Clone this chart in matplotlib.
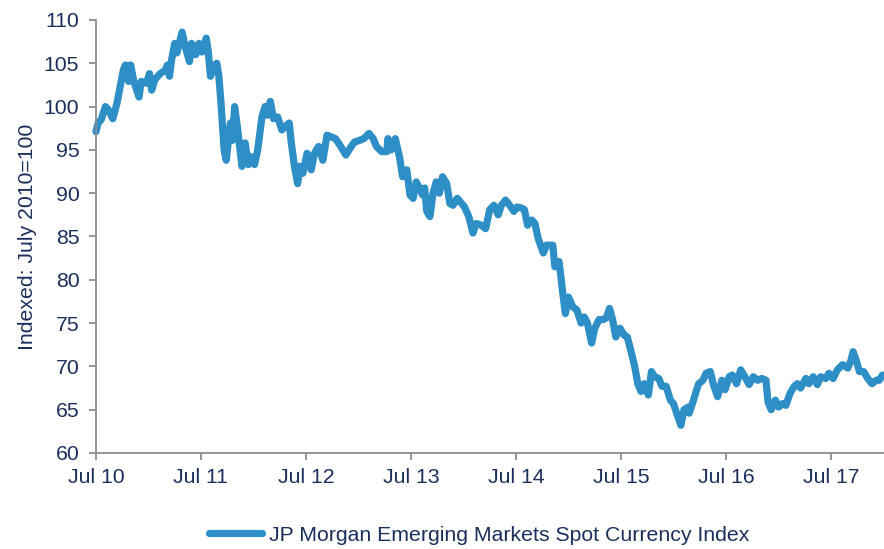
import matplotlib
matplotlib.use("Agg")
import matplotlib.pyplot as plt
import pandas as pd

# Time in years since 1 Jul 2010, and index values (July 2010 = 100)
years_since_jul2010 = [
    0.00, 0.02, 0.05, 0.09, 0.12, 0.16, 0.20, 0.23, 0.26, 0.28, 0.31, 0.33, 0.36, 0.41,
    0.43, 0.48, 0.51, 0.53, 0.56, 0.61, 0.66, 0.68, 0.70, 0.72, 0.75, 0.77, 0.82, 0.85,
    0.89, 0.91, 0.95, 0.98, 1.01, 1.05, 1.07, 1.09, 1.12, 1.15, 1.17, 1.19, 1.22, 1.24,
    1.28, 1.30, 1.32, 1.35, 1.39, 1.42, 1.45, 1.48, 1.51, 1.54, 1.58, 1.61, 1.63, 1.66,
    1.69, 1.73, 1.77, 1.80, 1.84, 1.86, 1.89, 1.92, 1.94, 1.97, 2.01, 2.05, 2.08, 2.12,
    2.16, 2.20, 2.24, 2.28, 2.32, 2.38, 2.42, 2.46, 2.51, 2.55, 2.60, 2.64, 2.67, 2.72,
    2.77, 2.78, 2.81, 2.85, 2.89, 2.92, 2.96, 2.99, 3.02, 3.05, 3.08, 3.11, 3.13, 3.15,
    3.18, 3.21, 3.24, 3.27, 3.30, 3.34, 3.37, 3.40, 3.44, 3.47, 3.51, 3.55, 3.59, 3.62,
    3.67, 3.71, 3.75, 3.79, 3.83, 3.86, 3.90, 3.94, 3.98, 4.01, 4.05, 4.08, 4.11, 4.15,
    4.18, 4.21, 4.26, 4.29, 4.35, 4.37, 4.41, 4.43, 4.45, 4.47, 4.50, 4.54, 4.58, 4.62,
    4.65, 4.68, 4.72, 4.75, 4.79, 4.83, 4.86, 4.89, 4.92, 4.95, 4.99, 5.03, 5.06, 5.10,
    5.13, 5.16, 5.19, 5.22, 5.26, 5.29, 5.32, 5.36, 5.39, 5.43, 5.47, 5.50, 5.53, 5.57,
    5.60, 5.64, 5.65, 5.68, 5.72, 5.74, 5.78, 5.81, 5.85, 5.88, 5.92, 5.96, 5.99, 6.03,
    6.06, 6.10, 6.14, 6.18, 6.22, 6.26, 6.30, 6.34, 6.38, 6.40, 6.43, 6.47, 6.50, 6.54,
    6.57, 6.61, 6.65, 6.68, 6.71, 6.76, 6.79, 6.83, 6.87, 6.90, 6.95, 6.98, 7.02, 7.06,
    7.11, 7.16, 7.19, 7.21, 7.24, 7.27, 7.31, 7.35, 7.39, 7.43, 7.46, 7.49,
]
index_values = [
    97.1, 98.1, 98.5, 100.0, 99.6, 98.6, 100.4, 102.3, 104.2, 104.8, 102.9, 104.8, 102.9, 101.1,
    102.9, 102.7, 103.8, 101.9, 103.1, 103.8, 104.2, 104.8, 103.5, 105.4, 107.3, 106.2, 108.6, 106.9,
    105.2, 107.3, 106.0, 107.3, 106.3, 107.9, 106.3, 103.5, 104.6, 105.0, 103.5, 100.5, 95.0, 93.8,
    98.1, 96.1, 100.0, 97.3, 93.1, 95.8, 93.3, 94.2, 93.3, 95.0, 98.8, 100.0, 99.0, 100.6,
    98.6, 98.8, 97.3, 97.7, 98.1, 95.8, 93.1, 91.1, 93.1, 92.3, 94.6, 92.7, 94.6, 95.4,
    93.8, 96.7, 96.5, 96.3, 95.6, 94.4, 95.2, 95.9, 96.1, 96.3, 96.9, 96.3, 95.4, 94.8,
    94.8, 96.3, 95.0, 96.3, 94.2, 91.9, 92.7, 89.8, 89.4, 91.3, 90.6, 89.8, 90.6, 87.9,
    87.3, 90.0, 91.3, 90.0, 91.9, 91.1, 88.8, 88.6, 89.4, 89.0, 88.4, 87.3, 85.4, 86.5,
    86.3, 85.9, 88.1, 88.6, 87.5, 88.6, 89.2, 88.6, 87.9, 88.4, 88.3, 88.1, 86.3, 86.9,
    86.5, 84.8, 83.1, 84.0, 84.0, 81.5, 82.1, 80.0, 78.0, 76.1, 78.0, 76.9, 76.5, 75.0,
    75.7, 75.0, 72.7, 74.4, 75.4, 75.4, 75.6, 76.7, 75.4, 73.4, 74.4, 73.6, 73.4, 71.5,
    70.0, 68.0, 67.1, 68.0, 66.7, 69.4, 68.8, 68.6, 67.7, 67.7, 66.1, 65.7, 64.6, 63.2,
    65.0, 65.3, 64.6, 65.7, 67.3, 68.0, 68.4, 69.2, 69.4, 67.9, 66.5, 68.4, 67.3, 68.8,
    69.0, 68.0, 69.6, 68.8, 67.9, 68.8, 68.4, 68.6, 68.4, 65.9, 65.0, 66.1, 65.3, 65.7,
    65.5, 66.9, 67.7, 68.0, 67.5, 68.6, 68.0, 68.8, 67.9, 68.8, 68.6, 69.2, 68.6, 69.6,
    70.2, 69.8, 70.7, 71.7, 70.7, 69.4, 69.4, 68.6, 68.0, 68.4, 68.4, 69.0,
]
tick_dates = ["2010-07-01", "2011-07-01", "2012-07-01", "2013-07-01",
              "2014-07-01", "2015-07-01", "2016-07-01", "2017-07-01"]
tick_labels = ["Jul 10", "Jul 11", "Jul 12", "Jul 13", "Jul 14", "Jul 15", "Jul 16", "Jul 17"]
y_ticks = [60, 65, 70, 75, 80, 85, 90, 95, 100, 105, 110]
series_name = "JP Morgan Emerging Markets Spot Currency Index"
y_label = "Indexed: July 2010=100"

start = pd.Timestamp("2010-07-01")
dates = [start + pd.Timedelta(days=t * 365.25) for t in years_since_jul2010]

plt.rcParams['font.family'] = ['Liberation Sans', 'DejaVu Sans']
text_color = "#1B2F5B"
axis_color = "#8C8C94"
line_color = "#2E8FC6"
fs = 15.3

fig = plt.figure(figsize=(8.84, 5.49), dpi=100)
ax = fig.add_axes([0.1086, 0.1749, 0.8914, 0.7887])

ax.plot(dates, index_values, color=line_color, lw=5.2, solid_joinstyle="round",
        solid_capstyle="round", label=series_name, clip_on=False)

ax.set_xlim(pd.Timestamp("2010-07-01"), pd.Timestamp("2018-01-01"))
ax.set_ylim(60, 110)
ax.set_yticks(y_ticks)
ax.set_xticks([pd.Timestamp(d) for d in tick_dates])
ax.set_xticklabels(tick_labels)

for s in ["top", "right"]:
    ax.spines[s].set_visible(False)
for s in ["left", "bottom"]:
    ax.spines[s].set_color(axis_color)
    ax.spines[s].set_linewidth(1.3)

ax.tick_params(axis="both", colors=axis_color, labelcolor=text_color,
               labelsize=fs, length=5, width=1.3)
ax.tick_params(axis="y", pad=7)
ax.tick_params(axis="x", pad=6)

ax.set_ylabel(y_label, color=text_color, fontsize=fs, labelpad=5)

leg = fig.legend(loc="center", bbox_to_anchor=(0.542, 0.025), frameon=False,
                 fontsize=fs, handlelength=2.5, handletextpad=0.3)
for t in leg.get_texts():
    t.set_color(text_color)

fig.savefig("out.png", dpi=100)
